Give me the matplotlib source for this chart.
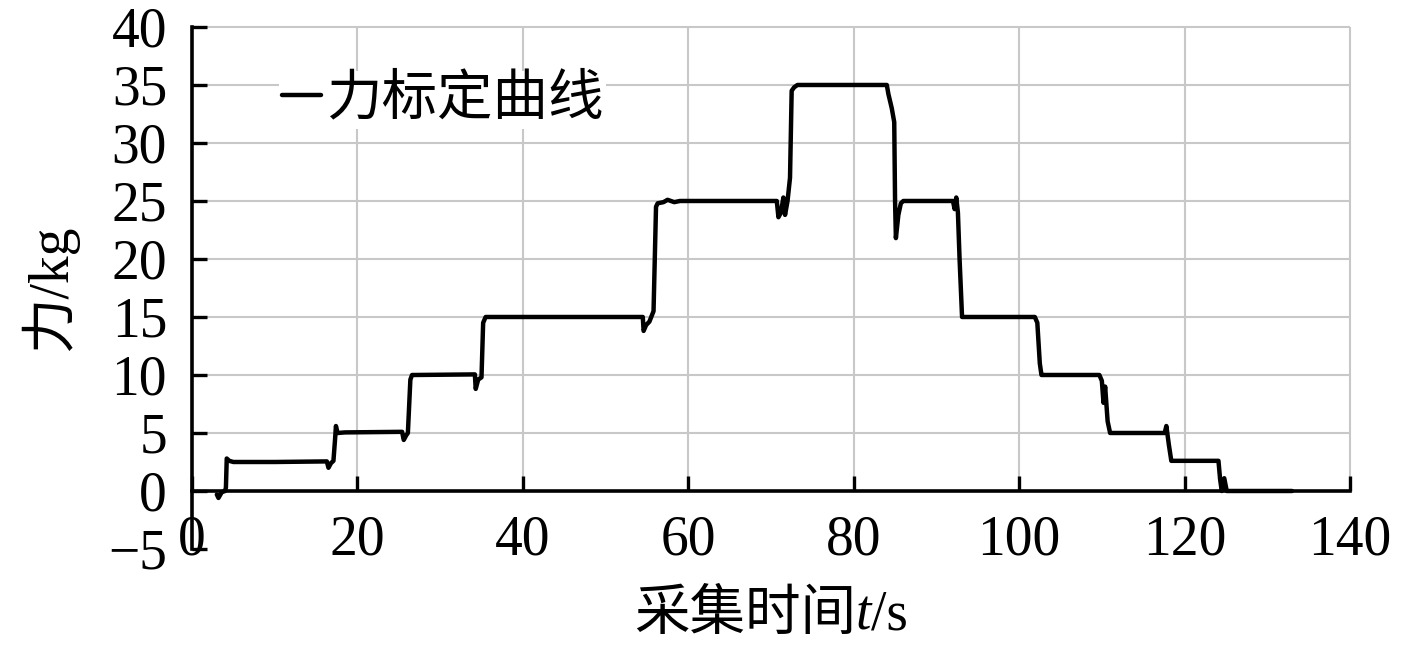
import matplotlib
matplotlib.use("Agg")
import matplotlib.pyplot as plt
from matplotlib.offsetbox import TextArea, HPacker, AnchoredOffsetbox

plt.rcParams['font.family'] = ['Liberation Serif', 'Noto Sans CJK SC']

# --- data ---
time_s = [3.0, 3.2, 3.6, 4.0, 4.1, 4.2, 4.5, 5.0, 10.0, 16.3, 16.5, 16.8, 17.1, 17.3, 17.4, 17.6,
          18.5, 25.4, 25.6, 25.9, 26.1, 26.4, 26.6, 27.0, 34.2, 34.3, 34.6, 35.0, 35.2, 35.5,
          36.0, 54.5, 54.6, 54.9, 55.3, 55.8, 56.1, 56.3, 57.0, 57.5, 58.3, 59.0, 70.7, 70.9,
          71.2, 71.5, 71.7, 72.0, 72.3, 72.5, 72.8, 73.2, 84.0, 84.2, 84.6, 84.9, 85.0, 85.1,
          85.4, 85.7, 86.0, 92.0, 92.2, 92.4, 92.6, 92.8, 93.1, 93.5, 101.9, 102.2, 102.5,
          102.7, 103.0, 109.7, 110.0, 110.2, 110.4, 110.7, 111.0, 111.5, 117.6, 117.8, 118.1,
          118.4, 119.0, 124.1, 124.3, 124.5, 124.8, 125.1, 133.0]
force_kg = [-0.3, -0.6, -0.1, 0.0, 0.3, 2.8, 2.6, 2.5, 2.5, 2.55, 2.0, 2.4, 2.6, 4.5, 5.6, 5.0,
            5.05, 5.1, 4.4, 4.8, 5.0, 9.6, 10.0, 10.0, 10.05, 8.8, 9.6, 9.8, 14.5, 15.0,
            15.0, 15.0, 13.8, 14.3, 14.6, 15.5, 24.5, 24.8, 24.9, 25.1, 24.9, 25.0, 25.0, 23.6,
            24.0, 25.3, 23.8, 25.0, 27.0, 34.5, 34.8, 35.0, 35.0, 34.2, 33.0, 31.8, 25.0, 21.8,
            23.8, 24.8, 25.0, 25.0, 24.3, 25.3, 24.0, 20.0, 15.0, 15.0, 15.0, 14.5, 11.0,
            10.0, 10.0, 10.0, 9.5, 7.6, 9.0, 6.0, 5.0, 5.0, 5.0, 5.6, 4.0,
            2.6, 2.6, 2.6, 1.0, 0.0, 1.1, 0.0, 0.0]

x_ticks = [0, 20, 40, 60, 80, 100, 120, 140]
y_ticks = [-5, 0, 5, 10, 15, 20, 25, 30, 35, 40]
series_label = "力标定曲线"
x_label_parts = ["采集时间", "t", "/s"]
y_label = "力/kg"

fig = plt.figure(figsize=(14.17, 6.5), dpi=100)
ax = fig.add_axes([0.1355, 0.1554, 0.8172, 0.8031])
ax.set_xlim(0, 140)
ax.set_ylim(-5, 40)

grid_c = '#c8c8c8'
ax.hlines([v for v in y_ticks if v > 0], 0, 140, color=grid_c, lw=1.5, zorder=1, clip_on=False)
ax.vlines([v for v in x_ticks if v > 0], 0, 40, color=grid_c, lw=1.5, zorder=1, clip_on=False)

ax.plot(time_s, force_kg, color='black', lw=3.2, solid_joinstyle='round',
        solid_capstyle='round', zorder=3, label=series_label)

for s in ['top', 'right']:
    ax.spines[s].set_visible(False)
ax.spines['bottom'].set_position(('data', 0))
ax.spines['bottom'].set_linewidth(2.6)
ax.spines['left'].set_linewidth(2.6)
ax.spines['bottom'].set_zorder(4)

ax.set_xticks(x_ticks)
ax.set_yticks(y_ticks)
ax.set_yticklabels(['\u22125' if v == -5 else str(v) for v in y_ticks])
ax.tick_params(axis='x', direction='in', length=11, width=2.4, pad=17, labelsize=40)
ax.tick_params(axis='y', direction='in', length=11, width=2.4, pad=18, labelsize=40)

ax.set_ylabel(y_label, fontsize=40, labelpad=22)

# x label: CJK text + italic t + "/s"
parts = [
    TextArea(x_label_parts[0], textprops=dict(fontsize=40, family=['Noto Sans CJK SC'])),
    TextArea(x_label_parts[1], textprops=dict(fontsize=40, family=['Liberation Serif'], style='italic')),
    TextArea(x_label_parts[2], textprops=dict(fontsize=40, family=['Liberation Serif'])),
]
xbox = HPacker(children=parts, align='baseline', pad=0, sep=0)
anch = AnchoredOffsetbox(loc='center', child=xbox, pad=0, borderpad=0, frameon=False,
                         bbox_to_anchor=(0.544, 0.055), bbox_transform=fig.transFigure)
fig.add_artist(anch)

leg = ax.legend(loc='upper left', bbox_to_anchor=(0.075, 0.915), fontsize=40,
                frameon=True, fancybox=False, edgecolor='none', framealpha=1,
                handlelength=0.7, handletextpad=0.1, borderpad=0.05, borderaxespad=0)
leg.get_frame().set_facecolor('white')
leg.set_zorder(5)

fig.savefig('out.png', dpi=100)
